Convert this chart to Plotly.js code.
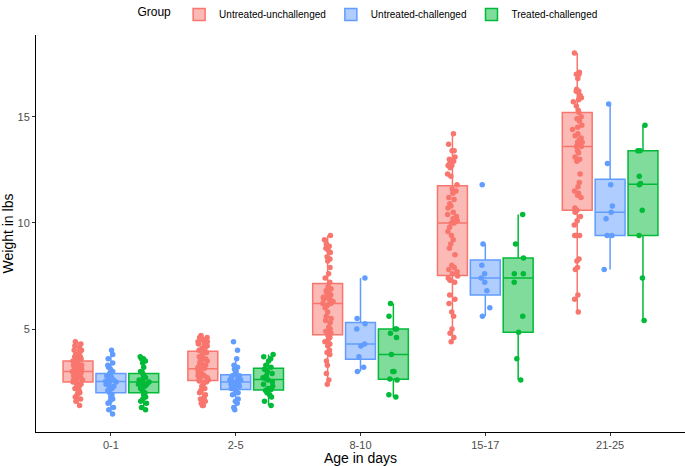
<!DOCTYPE html>
<html>
<head>
<meta charset="utf-8">
<script src="https://cdn.plot.ly/plotly-3.0.1.min.js"></script>
<style>
  html, body { margin: 0; padding: 0; background: #fff; }
  #chart { width: 685px; height: 466px; }
</style>
</head>
<body>
<div id="chart"></div>
<script>
// Age classes on the x axis
const ageGroups = ['0-1', '2-5', '8-10', '15-17', '21-25'];

// Weights (lbs) per age class
const untreatedUnchallenged = [
  [4.4, 4.3, 4.2, 4.1, 4.0, 4.0, 3.9, 3.8, 3.8, 3.7, 3.7, 3.6, 3.6, 3.5, 3.5,
   3.4, 3.4, 3.3, 3.3, 3.3, 3.2, 3.2, 3.2, 3.1, 3.1, 3.1, 3.0, 3.0, 3.0,
   3.0, 2.9, 2.9, 2.9, 2.8, 2.8, 2.8, 2.7, 2.7, 2.7, 2.6, 2.6, 2.6, 2.6,
   2.5, 2.5, 2.4, 2.4, 2.3, 2.2, 2.2, 2.1, 2.0, 2.0, 1.9, 1.8, 1.7, 1.6, 1.4],
  [4.7, 4.6, 4.6, 4.5, 4.5, 4.4, 4.4, 4.3, 4.3, 4.2, 4.2, 4.1, 4.1, 4.0,
   3.9, 3.8, 3.7, 3.6, 3.6, 3.5, 3.5, 3.4, 3.4, 3.3, 3.3, 3.2, 3.2, 3.15,
   3.1, 3.1, 3.0, 3.0, 2.9, 2.9, 2.8, 2.8, 2.8, 2.7, 2.7, 2.6, 2.6, 2.6,
   2.55, 2.5, 2.4, 2.3, 2.2, 2.1, 2.0, 1.9, 1.8, 1.7, 1.6, 1.5, 1.4, 1.4],
  [9.4, 9.2, 9.0, 8.9, 8.8, 8.7, 8.6, 8.4, 8.3, 8.2, 7.9, 7.6, 7.4, 7.2,
   7.0, 6.9, 6.8, 6.7, 6.7, 6.6, 6.5, 6.5, 6.4, 6.4, 6.3, 6.3, 6.2, 6.2,
   6.2, 6.1, 6.0, 5.8, 5.6, 5.5, 5.4, 5.3, 5.1, 5.0, 4.9, 4.8, 4.8,
   4.7, 4.6, 4.5, 4.4, 4.3, 4.2, 4.0, 3.9, 3.8, 3.5, 3.3, 2.9, 2.6, 2.4],
  [14.2, 13.7, 13.4, 13.4, 13.1, 13.0, 12.9, 12.8, 12.7, 12.7, 12.6, 12.3, 12.2, 11.8,
   11.6, 11.5, 11.4, 11.2, 11.1, 10.9, 10.8, 10.7, 10.5, 10.4, 10.3, 10.2, 10.1, 10.0,
   10.0, 9.8, 9.6, 9.4, 9.2, 9.0, 8.8, 8.5, 8.0, 7.9, 7.8, 7.7, 7.6,
   7.5, 7.4, 7.3, 7.3, 7.2, 6.6, 6.4, 6.2, 5.8, 5.6, 5.0, 4.8, 4.6, 4.4],
  [18.0, 17.1, 17.0, 17.0, 16.8, 16.3, 16.2, 16.2, 16.0, 15.9, 15.8, 15.7, 15.5, 15.3,
   15.2, 15.0, 14.9, 14.8, 14.6, 14.5, 14.4, 14.2, 14.1, 14.0, 13.9, 13.8, 13.8, 13.7,
   13.6, 13.6, 13.4, 13.3, 13.1, 13.0, 12.9, 12.3, 11.9, 11.7, 11.5, 11.4, 11.3, 11.2, 10.7,
   10.6, 10.5, 10.3, 10.1, 9.9, 9.4, 9.4, 9.4, 8.3, 8.2, 7.9, 7.8, 6.6, 6.4, 5.8]
];
const untreatedChallenged = [
  [4.0, 3.8, 3.6, 3.4, 3.3, 3.2, 3.1, 3.0, 2.9, 2.8, 2.8, 2.7, 2.7, 2.6, 2.6, 2.6, 2.55,
   2.5, 2.5, 2.4, 2.4, 2.3, 2.3, 2.2, 2.1, 2.0, 1.9, 1.8, 1.7, 1.6, 1.5, 1.3, 1.2, 1.0],
  [4.4, 4.0, 3.6, 3.3, 3.2, 3.1, 3.0, 2.9, 2.8, 2.8, 2.7, 2.7, 2.6, 2.6, 2.55, 2.5,
   2.5, 2.4, 2.4, 2.3, 2.3, 2.2, 2.2, 2.2, 2.1, 2.0, 1.9, 1.7, 1.6, 1.5, 1.3, 1.2],
  [7.4, 5.5, 5.25, 5.0, 4.3, 4.2, 3.7, 3.2, 3.0],
  [11.8, 9.0, 8.0, 7.6, 7.4, 7.2, 6.8, 6.0, 5.6],
  [15.6, 12.8, 11.8, 10.8, 10.5, 10.2, 9.4, 9.4, 7.8]
];
const treatedChallenged = [
  [3.7, 3.6, 3.6, 3.5, 3.4, 3.2, 3.0, 2.9, 2.8, 2.7, 2.7, 2.6, 2.6, 2.5, 2.5,
   2.5, 2.4, 2.4, 2.3, 2.3, 2.2, 2.1, 2.0, 1.9, 1.8, 1.7, 1.6, 1.5, 1.3, 1.2],
  [3.8, 3.7, 3.6, 3.5, 3.3, 3.2, 3.1, 3.0, 2.9, 2.8, 2.7, 2.65,
   2.6, 2.5, 2.4, 2.3, 2.2, 2.15, 2.1, 2.0, 1.9, 1.8, 1.6, 1.4],
  [6.2, 5.6, 5.0, 5.0, 4.8, 4.6, 3.8, 3.0, 3.0, 2.65, 2.6, 1.9, 1.8],
  [10.4, 9.0, 8.35, 7.6, 7.6, 7.2, 5.6, 4.85, 3.6, 2.6],
  [14.6, 13.4, 13.4, 12.2, 11.85, 11.8, 10.6, 9.4, 7.4, 5.4]
];

const groupNames = ['Untreated-unchallenged', 'Untreated-challenged', 'Treated-challenged'];
const groupColors = ['#F8766D', '#619CFF', '#00BA38'];
const groupFills = ['rgba(248,118,109,0.5)', 'rgba(97,156,255,0.5)', 'rgba(0,186,56,0.5)'];

// flatten per-age lists into x/y pairs for one box trace
function makeTrace(lists, i) {
  const x = [];
  const y = [];
  lists.forEach((vals, k) => {
    vals.forEach(v => { x.push(ageGroups[k]); y.push(v); });
  });
  return {
    type: 'box',
    name: groupNames[i],
    x: x,
    y: y,
    boxpoints: 'all',
    jitter: 0.4,
    pointpos: 0,
    whiskerwidth: 0,
    fillcolor: groupFills[i],
    line: { color: groupColors[i], width: 1.5 },
    marker: { color: groupColors[i], size: 5.5, opacity: 1 },
    hoverinfo: 'y'
  };
}

const traces = [
  makeTrace(untreatedUnchallenged, 0),
  makeTrace(untreatedChallenged, 1),
  makeTrace(treatedChallenged, 2)
];

const layout = {
  width: 685,
  height: 466,
  margin: { l: 36, r: 0, t: 35, b: 34 },
  paper_bgcolor: '#fff',
  plot_bgcolor: '#fff',
  font: { family: 'Liberation Sans, Arial, sans-serif', color: '#000' },
  boxmode: 'group',
  boxgap: 0.21,
  boxgroupgap: 0.09,
  showlegend: true,
  legend: {
    orientation: 'h',
    x: 0.513,
    xanchor: 'center',
    yref: 'container',
    y: 1,
    yanchor: 'top',
    itemwidth: 30,
    font: { size: 10, color: '#000' },
    title: { text: 'Group', side: 'left', font: { size: 12, color: '#000' } },
    itemclick: false
  },
  xaxis: {
    type: 'category',
    categoryorder: 'array',
    categoryarray: ageGroups,
    range: [-0.6, 4.6],
    showline: true,
    linecolor: '#000',
    linewidth: 1,
    ticks: 'outside',
    ticklen: 3,
    tickcolor: '#333',
    showgrid: false,
    zeroline: false,
    tickfont: { size: 11, color: '#4D4D4D' },
    title: { text: 'Age in days', font: { size: 14, color: '#000' }, standoff: 4 }
  },
  yaxis: {
    range: [0.15, 18.85],
    tickvals: [5, 10, 15],
    showline: true,
    linecolor: '#000',
    linewidth: 1,
    ticks: 'outside',
    ticklen: 3,
    tickcolor: '#333',
    showgrid: false,
    zeroline: false,
    tickfont: { size: 11, color: '#4D4D4D' },
    title: { text: 'Weight in lbs', font: { size: 14, color: '#000' }, standoff: 6 }
  }
};

Plotly.newPlot('chart', traces, layout, { displayModeBar: false, staticPlot: true });
</script>
</body>
</html>
